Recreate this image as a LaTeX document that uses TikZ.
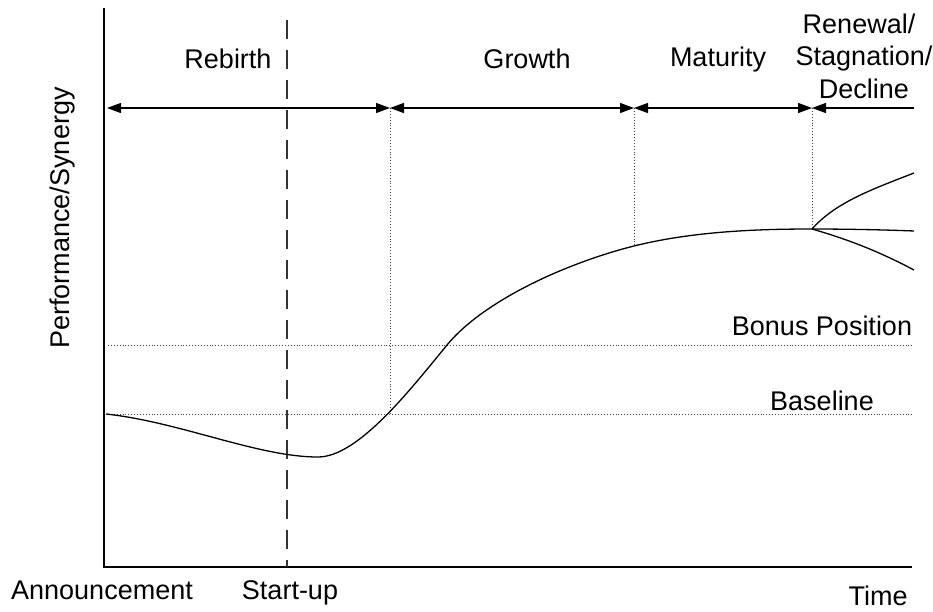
\documentclass[tikz,border=0pt]{standalone}
\usepackage{fontspec}
\setmainfont{Liberation Sans}
\usetikzlibrary{arrows.meta}
\begin{document}
\begin{tikzpicture}[x=1pt,y=-1pt,
  axis/.style={line width=1.4pt},
  curve/.style={line width=1.3pt},
  guide/.style={line width=0.9pt, dotted, black!75},
  phase/.style={line width=1.3pt},
  lbl/.style={font=\fontsize{27}{32}\selectfont, inner sep=0pt, anchor=base}]
\useasboundingbox (0,0) rectangle (933,611);
% key points
\coordinate (O) at (104,567);
\coordinate (Ytop) at (104,8);
\coordinate (Xend) at (912,567);
\coordinate (p0) at (107,108);
\coordinate (p1) at (390,108);
\coordinate (p2) at (634,108);
\coordinate (p3) at (812,108);
\coordinate (p4) at (914,108);
\coordinate (s0) at (287,20);
\coordinate (s1) at (287,567);
\coordinate (c0) at (106,414);
\coordinate (cmin) at (318,457);
\coordinate (cmid) at (447,345);
\coordinate (c1) at (390,414);
\coordinate (c2) at (634,246);
\coordinate (c3) at (812,229);
\coordinate (eUp) at (914,173);
\coordinate (eFlat) at (914,231);
\coordinate (eDown) at (914,270);
\coordinate (bL) at (108,414);
\coordinate (bR) at (914,414);
\coordinate (bpL) at (108,345);
\coordinate (bpR) at (914,345);
% axes
\draw[axis] (Ytop) -- (O) -- (Xend);
% guide lines
\draw[guide] (bpL) -- (bpR);
\draw[guide] (bL) -- (bR);
\draw[guide] (p1) -- (c1);
\draw[guide] (p2) -- (c2);
\draw[guide] (p3) -- (c3);
% start-up dashed
\draw[line width=1.3pt, black!80, dash pattern=on 19pt off 11pt] (s0) -- (s1);
% phase arrows
\draw[phase, {Triangle[length=14pt,width=10pt]}-{Triangle[length=14pt,width=10pt]}] (p0) -- (p1);
\draw[phase, {Triangle[length=14pt,width=10pt]}-{Triangle[length=14pt,width=10pt]}] (p1) -- (p2);
\draw[phase, {Triangle[length=14pt,width=10pt]}-{Triangle[length=14pt,width=10pt]}] (p2) -- (p3);
\draw[phase, {Triangle[length=14pt,width=10pt]}-] (p3) -- (p4);
% performance curve
\draw[curve] (c0) .. controls (180,422) and (258,457) .. (cmin)
  .. controls (358,457) and (410,390) .. (cmid)
  .. controls (485,299) and (570,262) .. (c2)
  .. controls (694,231) and (760,229) .. (c3);
\draw[curve] (c3) .. controls (835,203) and (870,190) .. (eUp);
\draw[curve] (c3) .. controls (850,229) and (890,230) .. (eFlat);
\draw[curve] (c3) .. controls (850,240) and (880,252) .. (eDown);
% labels
\node[lbl] (rebirth) at (228,68) {Rebirth};
\node[lbl] (growth) at (527,68) {Growth};
\node[lbl] (maturity) at (718,66) {Maturity};
\node[lbl] (renewal) at (859,33) {Renewal/};
\node[lbl] (stagnation) at (864,65) {Stagnation/};
\node[lbl] (decline) at (864,98) {Decline};
\node[lbl] (bonus) at (822,335) {Bonus Position};
\node[lbl] (baseline) at (822,410) {Baseline};
\node[lbl] (announce) at (102,599) {Announcement};
\node[lbl] (startup) at (290,599) {Start-up};
\node[lbl] (time) at (878,605) {Time};
\node[lbl, anchor=center, rotate=90] (perf) at (63,218) {Performance/Synergy};
\end{tikzpicture}
\end{document}
